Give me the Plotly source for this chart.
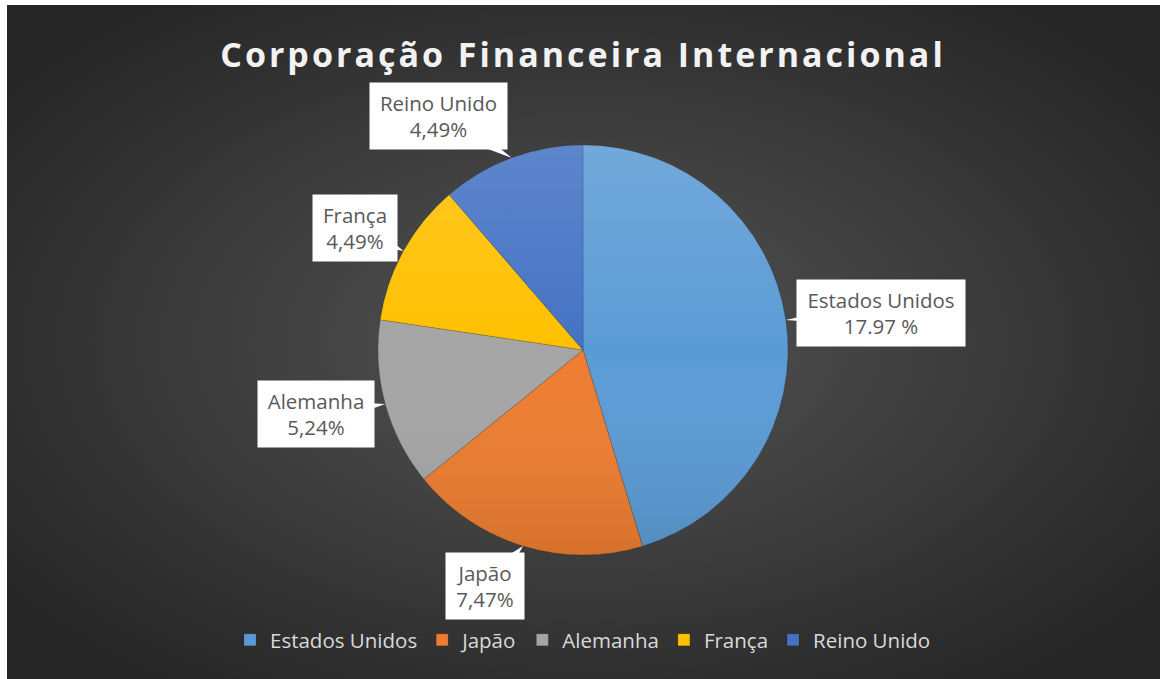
import math
import base64
import plotly.graph_objects as go

# ---- data ----
categories = ["Estados Unidos", "Japão", "Alemanha", "França", "Reino Unido"]
values = [17.97, 7.47, 5.24, 4.49, 4.49]
label_texts = ["17.97 %", "7,47%", "5,24%", "4,49%", "4,49%"]
colors = ["#5B9BD5", "#ED7D31", "#A5A5A5", "#FFC000", "#4472C4"]
title_text = "Corporação Financeira Internacional"

W, H = 1166, 679
CX, CY, R = 583, 350, 205  # pie centre / radius in pixels

def svg_uri(svg):
    return "data:image/svg+xml;base64," + base64.b64encode(svg.encode("utf-8")).decode("ascii")

bg_svg = (
    '<svg xmlns="http://www.w3.org/2000/svg" width="1153" height="674" viewBox="0 0 1153 674" preserveAspectRatio="none">'
    '<defs><radialGradient id="g" cx="0.5" cy="0.5" r="0.62" gradientUnits="objectBoundingBox">'
    '<stop offset="0" stop-color="#555555"/><stop offset="1" stop-color="#262626"/>'
    '</radialGradient></defs><rect width="1153" height="674" fill="url(#g)"/></svg>'
)
shade_svg = (
    '<svg xmlns="http://www.w3.org/2000/svg" width="400" height="400" viewBox="0 0 400 400">'
    '<defs><linearGradient id="s" x1="0" y1="0" x2="0" y2="1">'
    '<stop offset="0" stop-color="#ffffff" stop-opacity="0.14"/>'
    '<stop offset="0.5" stop-color="#ffffff" stop-opacity="0"/>'
    '<stop offset="1" stop-color="#000000" stop-opacity="0.10"/>'
    '</linearGradient></defs><circle cx="200" cy="200" r="200" fill="url(#s)"/></svg>'
)

fig = go.Figure(
    go.Pie(
        labels=categories,
        values=values,
        sort=False,
        direction="clockwise",
        rotation=0,
        marker=dict(colors=colors, line=dict(color="rgba(0,0,0,0.15)", width=1)),
        textinfo="none",
        hoverinfo="label+value",
        domain=dict(x=[(CX - R) / W, (CX + R) / W], y=[(H - CY - R) / H, (H - CY + R) / H]),
    )
)

# callout labels at each slice's mid-angle
offsets = [(95, -7), (-38, 40), (-69, 10), (-48, -23), (-73, -42)]
widths = [160, 70, 108, 76, 129]
total = sum(values)
cum = 0.0
annotations = []
shapes = []
for cat, v, t, (ox, oy), w in zip(categories, values, label_texts, offsets, widths):
    mid = (cum + v / 2) / total * 2 * math.pi
    cum += v
    px = CX + R * math.sin(mid)
    py = CY - R * math.cos(mid)
    bx, by = px + ox, py + oy
    # callout pointer wedge from box centre to slice edge
    d = math.hypot(ox, oy)
    nx, ny = -oy / d * 14, ox / d * 14
    pts = [(bx + nx, by + ny), (px, py), (bx - nx, by - ny)]
    path = "M " + " L ".join(f"{x / W:.5f},{1 - y / H:.5f}" for x, y in pts) + " Z"
    shapes.append(dict(type="path", path=path, xref="paper", yref="paper",
                       fillcolor="white", line=dict(width=0), layer="above"))
    annotations.append(dict(
        x=bx / W, y=1 - by / H, xref="paper", yref="paper",
        text=f"{cat}<br>{t}", showarrow=False,
        bgcolor="white", borderpad=4, width=w, height=58,
        font=dict(family="Open Sans", size=20.5, color="#595959"), align="center",
        xanchor="center", yanchor="middle",
    ))

fig.update_layout(
    width=W, height=H,
    margin=dict(l=0, r=0, t=0, b=0),
    paper_bgcolor="white",
    title=dict(text=title_text, x=0.5, xanchor="center", y=1 - 55 / H, yanchor="middle",
               font=dict(family="Open Sans", size=34, color="#f2f2f2", weight="bold")),
    legend=dict(orientation="h", x=0.5, xanchor="center", y=1 - 640 / H, yanchor="middle",
                font=dict(family="Open Sans", size=20.5, color="#d9d9d9"), bgcolor="rgba(0,0,0,0)",
                itemwidth=30, tracegroupgap=0),
    annotations=annotations,
    shapes=shapes,
    images=[
        dict(source=svg_uri(bg_svg), xref="paper", yref="paper", x=7 / W, y=1 - 5 / H,
             sizex=1153 / W, sizey=674 / H, sizing="stretch", layer="below",
             xanchor="left", yanchor="top"),
        dict(source=svg_uri(shade_svg), xref="paper", yref="paper", x=CX / W, y=1 - CY / H,
             sizex=2 * R / W, sizey=2 * R / H, sizing="stretch", layer="above",
             xanchor="center", yanchor="middle"),
    ],
)

post = """
document.body.style.margin = '0';
document.body.style.overflow = 'hidden';
var gd = document.getElementById('{plot_id}');
function spaceTitle() {
  var t = gd.querySelector('.gtitle');
  if (t) { t.style.letterSpacing = '3px'; }
}
spaceTitle();
if (gd.on) { gd.on('plotly_afterplot', spaceTitle); }
setTimeout(spaceTitle, 0);
"""

fig.write_html("out.html", post_script=post, config={"displayModeBar": False})
